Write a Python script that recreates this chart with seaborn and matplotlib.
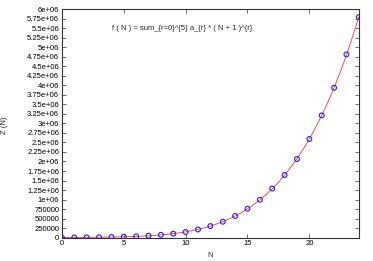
import numpy as np
import pandas as pd
import matplotlib
matplotlib.use("Agg")
import matplotlib.pyplot as plt
import seaborn as sns
from matplotlib.ticker import MultipleLocator, FuncFormatter

# values
n_vals = list(range(25))
z_vals = [3000, 5000, 8000, 12000, 18000, 26000, 36000, 52000, 75000, 105000,
          150000, 215000, 305000, 420000, 570000, 760000, 995000, 1290000,
          1645000, 2065000, 2590000, 3210000, 3935000, 4810000, 5790000]
fit_label = "f ( N ) = sum_{r=0}^{5} a_{r} * ( N + 1 )^{r}"

df = pd.DataFrame({"N": n_vals, "Z": z_vals})

# degree-5 fit in (N + 1), like the label says
coef = np.polyfit(df["N"] + 1, df["Z"], 5)
n_fine = np.linspace(0, 24, 400)
fit_df = pd.DataFrame({"N": n_fine, "Z": np.polyval(coef, n_fine + 1)})

sns.set_style("ticks")
plt.rcParams["font.family"] = ["Liberation Sans", "DejaVu Sans"]

fig = plt.figure(figsize=(3.73, 2.61), dpi=100)
ax = fig.add_axes([0.166, 0.0893, 0.796, 0.876])

sns.lineplot(data=fit_df, x="N", y="Z", color="#ff3030", linewidth=0.6, ax=ax)
sns.scatterplot(data=df, x="N", y="Z", marker="o", s=12, facecolors="none",
                edgecolor="#2020ff", linewidth=0.8, ax=ax, zorder=3)

ax.set_xlim(0, 24)
ax.set_ylim(0, 6e6)
ax.xaxis.set_major_locator(MultipleLocator(5))
ax.yaxis.set_major_locator(MultipleLocator(250000))
ax.yaxis.set_major_formatter(FuncFormatter(lambda v, p: "%g" % v))

ax.tick_params(direction="in", length=3, width=0.5, labelsize=5.5,
               top=True, right=True, pad=2, colors="#333333", labelcolor="black")
for sp in ax.spines.values():
    sp.set_linewidth(0.8)
    sp.set_color("#333333")

ax.set_xlabel("N", fontsize=5.5, labelpad=3)
ax.set_ylabel("Z (N)", fontsize=5.5)
ax.yaxis.set_label_coords(-0.18, 0.49)
ax.text(0.17, 0.915, fit_label, transform=ax.transAxes, fontsize=5.5,
        ha="left", va="center")

fig.savefig("out.png", dpi=100)
